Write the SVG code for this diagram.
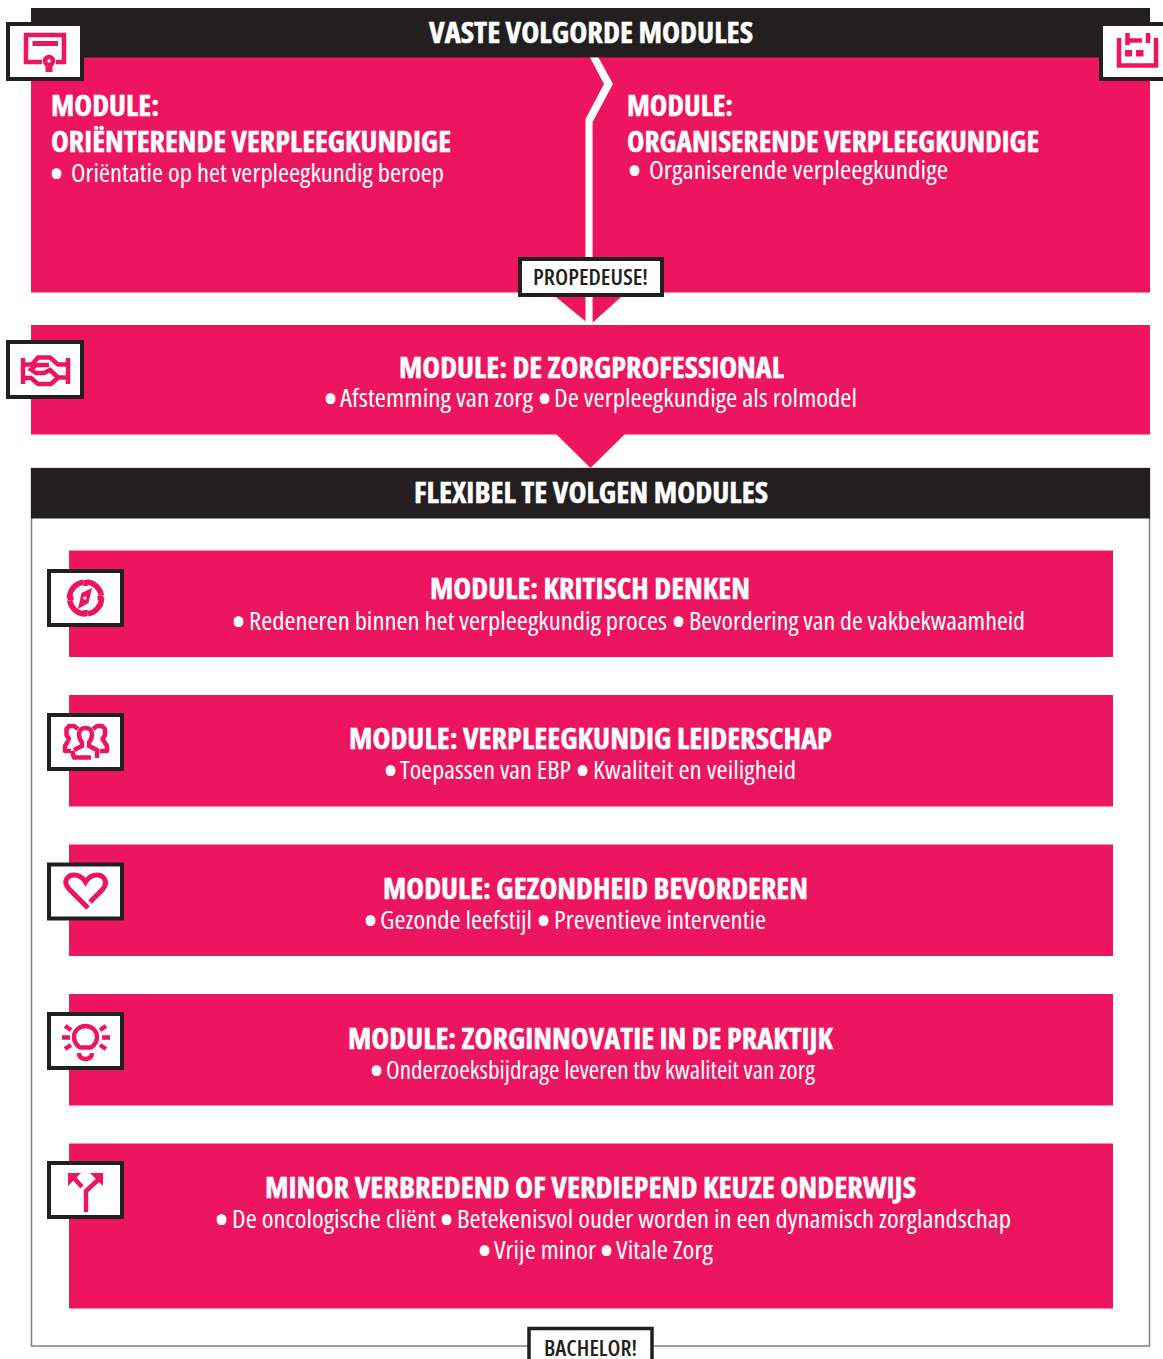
<svg xmlns="http://www.w3.org/2000/svg" width="1163" height="1359" viewBox="0 0 1163 1359">
<style>
text{font-family:"Open Sans","Noto Sans","Liberation Sans",sans-serif;font-stretch:75%}
.h{font-weight:700;font-size:29px;fill:#fff;stroke:#fff;stroke-width:.5px}
.b{font-weight:400;font-size:25px;fill:#fff}
.d{font-size:40px}
.k{font-weight:600;font-size:22px;fill:#231f20}
.p{fill:#ee1560}
.bx{fill:#fff;stroke:#231f20;stroke-width:4}
.i{fill:none;stroke:#ee1560;stroke-width:4.500}
.f{fill:#ee1560}
</style>
<rect width="1163" height="1359" fill="#fff"/>
<g id="flexibel-frame">
<rect x="31.500" y="468.500" width="1118" height="877.500" fill="#fff" stroke="#808080" stroke-width="1.500"/>
<rect x="31" y="468" width="1119" height="50.500" fill="#231f20"/>
<text class="h" x="414" y="503" textLength="354" lengthAdjust="spacingAndGlyphs">FLEXIBEL TE VOLGEN MODULES</text>
</g>
<g id="vaste-volgorde">
<rect x="31" y="8" width="1119" height="50" fill="#231f20"/>
<rect class="p" x="31" y="57.500" width="1119" height="235"/>
<text class="h" x="429" y="43" textLength="324" lengthAdjust="spacingAndGlyphs">VASTE VOLGORDE MODULES</text>
</g>
<g id="connectors">
<path class="p" d="M556 297H621L590 325Z"/>
<path class="p" d="M556 434H625L590.500 468Z"/>
<path fill="#fff" d="M590 57.500H598.500L613 84L592.600 122V325H585.500V119L604 84Z"/>
</g>
<g id="module-orienterende">
<text class="h" x="51" y="116" textLength="108" lengthAdjust="spacingAndGlyphs">MODULE:</text>
<text class="h" x="51" y="152" textLength="400" lengthAdjust="spacingAndGlyphs">ORIËNTERENDE VERPLEEGKUNDIGE</text>
<text class="b"><tspan class="d" x="49" y="188">•</tspan><tspan x="71" y="182" textLength="373" lengthAdjust="spacingAndGlyphs">Oriëntatie op het verpleegkundig beroep</tspan></text>
<rect class="bx" x="8" y="24" width="74" height="55"/>
<path class="i" d="M42 62H26V35H64V62H56"/>
<rect class="f" x="32.500" y="41" width="25.500" height="5"/>
<circle class="i" cx="49" cy="61" r="4"/>
<rect class="f" x="45.500" y="65" width="7" height="7"/>
</g>
<g id="module-organiserende">
<text class="h" x="627" y="116" textLength="106" lengthAdjust="spacingAndGlyphs">MODULE:</text>
<text class="h" x="627" y="152" textLength="412" lengthAdjust="spacingAndGlyphs">ORGANISERENDE VERPLEEGKUNDIGE</text>
<text class="b"><tspan class="d" x="627" y="185">•</tspan><tspan x="649" y="179" textLength="299" lengthAdjust="spacingAndGlyphs">Organiserende verpleegkundige</tspan></text>
<rect class="bx" x="1101" y="24" width="66" height="55"/>
<path class="i" d="M1119 38V65.500H1156V38"/>
<path class="i" d="M1127.500 33V45M1128 40.500H1142M1148 33V43"/>
<rect class="f" x="1125" y="50" width="7" height="6.500"/>
<rect class="f" x="1136" y="50" width="7.500" height="6.500"/>
</g>
<g id="propedeuse">
<rect class="bx" x="520" y="259" width="142" height="36"/>
<text class="k" x="533" y="285" textLength="115" lengthAdjust="spacingAndGlyphs">PROPEDEUSE!</text>
</g>
<g id="module-zorgprofessional">
<rect class="p" x="31" y="325" width="1119" height="109.500"/>
<text class="h" x="399" y="378" textLength="385" lengthAdjust="spacingAndGlyphs">MODULE: DE ZORGPROFESSIONAL</text>
<text class="b"><tspan class="d" x="323" y="413">•</tspan><tspan x="340" y="407" textLength="193" lengthAdjust="spacingAndGlyphs">Afstemming van zorg</tspan><tspan class="d" x="537" y="413">•</tspan><tspan x="554" y="407" textLength="303" lengthAdjust="spacingAndGlyphs">De verpleegkundige als rolmodel</tspan></text>
<rect class="bx" x="8" y="342" width="74" height="55"/>
<path class="i" d="M23 358V384M68 358V384M25 364.500H32L38 357.500H50L58 364.500H66M25 378H31L38 384H51L58 377.500H66M49 365H36L31 369.500L36 373H44L50 370L58 377.500"/>
</g>
<g id="module-kritisch-denken">
<rect class="p" x="69" y="550.500" width="1044" height="106.500"/>
<text class="h" x="430" y="599" textLength="320" lengthAdjust="spacingAndGlyphs">MODULE: KRITISCH DENKEN</text>
<text class="b"><tspan class="d" x="231" y="636">•</tspan><tspan x="249" y="630" textLength="418" lengthAdjust="spacingAndGlyphs">Redeneren binnen het verpleegkundig proces</tspan><tspan class="d" x="671" y="636">•</tspan><tspan x="689" y="630" textLength="336" lengthAdjust="spacingAndGlyphs">Bevordering  van de vakbekwaamheid</tspan></text>
<rect class="bx" x="49" y="571" width="73" height="54"/>
<circle cx="85.500" cy="598" r="16" fill="none" stroke="#ee1560" stroke-width="5.500" stroke-dasharray="21 2 23 2 23 2 23 4" transform="rotate(-85 85.500 598)"/>
<path class="i" d="M85.500 580V586M85.500 610V616M67.500 598H73.500M97.500 598H103.500" stroke-width="3.500"/>
<path class="f" fill-rule="evenodd" d="M92 588L88.500 603L78 609L81.500 593ZM85 596.500a1.600 1.600 0 1 0 .1 0Z"/>
</g>
<g id="module-leiderschap">
<rect class="p" x="69" y="695" width="1044" height="111.500"/>
<text class="h" x="349" y="749" textLength="483" lengthAdjust="spacingAndGlyphs">MODULE: VERPLEEGKUNDIG LEIDERSCHAP</text>
<text class="b"><tspan class="d" x="383" y="785">•</tspan><tspan x="400" y="779" textLength="171" lengthAdjust="spacingAndGlyphs">Toepassen van EBP</tspan><tspan class="d" x="575" y="785">•</tspan><tspan x="593" y="779" textLength="203" lengthAdjust="spacingAndGlyphs">Kwaliteit en veiligheid</tspan></text>
<rect class="bx" x="49" y="715" width="73" height="54"/>
<path class="i" d="M72 751L74 757.500H91M97 758V750L89 746V742.500C91 740 92 737 92 734C92 730 89 728 85.500 728C82 728 79 730 79 734C79 737 80 740 82 742.500V746L74 750M78 729L74 726H69L66.500 729V735L69 739L65 746V751H71M93 729L97 726H102L105 729V735L102.500 739L107 746V751H100" stroke-linejoin="round"/>
</g>
<g id="module-gezondheid">
<rect class="p" x="69" y="844.500" width="1044" height="111.500"/>
<text class="h" x="383" y="899" textLength="425" lengthAdjust="spacingAndGlyphs">MODULE: GEZONDHEID BEVORDEREN</text>
<text class="b"><tspan class="d" x="363" y="935">•</tspan><tspan x="380" y="929" textLength="152" lengthAdjust="spacingAndGlyphs">Gezonde leefstijl</tspan><tspan class="d" x="536" y="935">•</tspan><tspan x="554" y="929" textLength="212" lengthAdjust="spacingAndGlyphs">Preventieve interventie</tspan></text>
<rect class="bx" x="49" y="864.500" width="73" height="54"/>
<path d="M88 908L69 889C62 881 68 875 74 875C79 875 83 878 85.500 882C88 878 92 875 97 875C103 875 109 881 103 889L90 902" fill="none" stroke="#ee1560" stroke-width="5"/>
</g>
<g id="module-zorginnovatie">
<rect class="p" x="69" y="994" width="1044" height="111.500"/>
<text class="h" x="348" y="1049" textLength="485" lengthAdjust="spacingAndGlyphs">MODULE: ZORGINNOVATIE IN DE PRAKTIJK</text>
<text class="b"><tspan class="d" x="369" y="1085">•</tspan><tspan x="386" y="1079" textLength="429" lengthAdjust="spacingAndGlyphs">Onderzoeksbijdrage leveren tbv kwaliteit van zorg</tspan></text>
<rect class="bx" x="49" y="1014" width="73" height="54"/>
<path class="i" d="M80 1047.500C75 1044 74 1040 74 1037C74 1031 79 1026 85.500 1026C92 1026 97 1031 97 1037C97 1040 96 1044 91 1047.500Z"/>
<path class="i" d="M79 1053C79 1057 82 1059 85.500 1059C89 1059 92 1057 92 1053M62 1037.500H70M102 1037.500H110M65 1026L71 1030M106 1026L100 1030M65 1049L71 1045M106 1049L100 1045" stroke-width="5"/>
</g>
<g id="module-minor">
<rect class="p" x="69" y="1143.500" width="1044" height="165"/>
<text class="h" x="265" y="1198" textLength="651" lengthAdjust="spacingAndGlyphs">MINOR VERBREDEND OF VERDIEPEND KEUZE ONDERWIJS</text>
<text class="b"><tspan class="d" x="214" y="1234">•</tspan><tspan x="232" y="1228" textLength="204" lengthAdjust="spacingAndGlyphs">De oncologische cliënt</tspan><tspan class="d" x="439" y="1234">•</tspan><tspan x="457" y="1228" textLength="554" lengthAdjust="spacingAndGlyphs">Betekenisvol ouder worden in een dynamisch zorglandschap</tspan></text>
<text class="b"><tspan class="d" x="477" y="1265">•</tspan><tspan x="494" y="1259" textLength="102" lengthAdjust="spacingAndGlyphs">Vrije minor</tspan><tspan class="d" x="599" y="1265">•</tspan><tspan x="616" y="1259" textLength="97" lengthAdjust="spacingAndGlyphs">Vitale Zorg</tspan></text>
<rect class="bx" x="49" y="1163" width="73" height="54"/>
<path class="i" d="M86 1212V1191L99 1179M73 1177L82 1187" stroke-width="6"/>
<path class="f" d="M68 1173H81L68 1186ZM90 1173H103V1186Z"/>
</g>
<g id="bachelor">
<rect x="529" y="1328.500" width="123" height="40" fill="#fff" stroke="#231f20" stroke-width="3.500"/>
<text class="k" x="544" y="1356" textLength="93" lengthAdjust="spacingAndGlyphs">BACHELOR!</text>
</g>
</svg>
